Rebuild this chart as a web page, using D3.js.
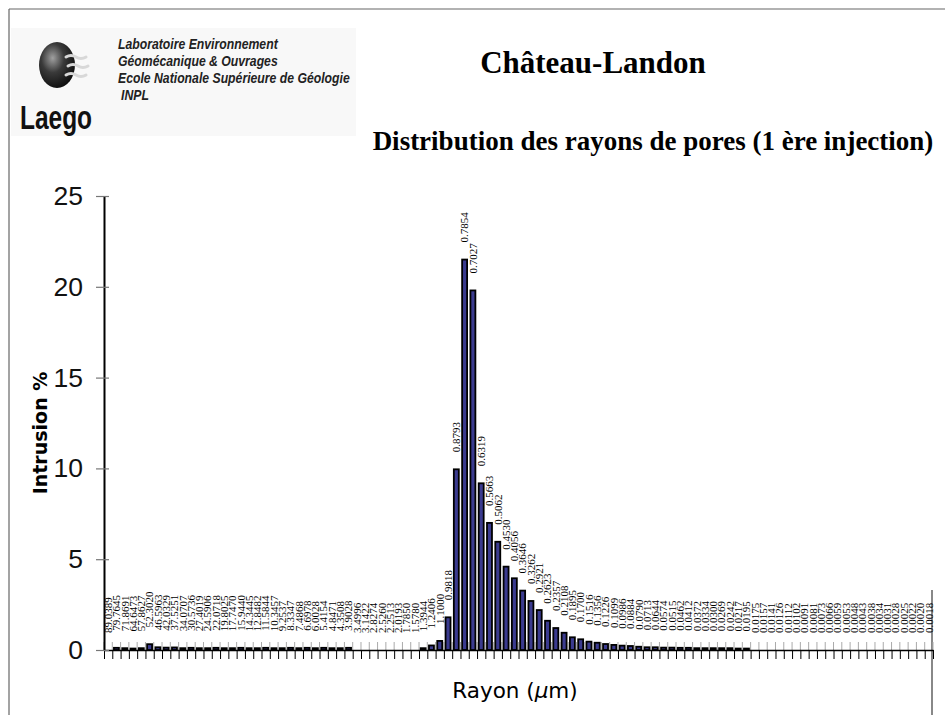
<!DOCTYPE html>
<html>
<head>
<meta charset="utf-8">
<script src="https://cdn.jsdelivr.net/npm/d3@7"></script>
<style>
  html, body { margin: 0; padding: 0; background: #fff; }
  svg { display: block; }
</style>
</head>
<body>
<svg id="chart" width="945" height="715"></svg>
<script>
// Pore radius classes (µm), one per bar, from coarse to fine
const radius = [
  "89.0389","79.7645","71.8691","64.6473","57.8627","52.3020","46.5963","42.0329","37.5251","34.0707",
  "30.5736","27.4019","24.5906","22.0718","19.8025","17.7470","15.9440","14.3445","12.8482","11.5844",
  "10.3457","9.2537","8.3347","7.4868","6.6978","6.0028","5.4154","4.8471","4.3508","3.9028",
  "3.4996","3.1422","2.8274","2.5260","2.2513","2.0193","1.7850","1.5780","1.3944","1.2406",
  "1.1000","0.9818","0.8793","0.7854","0.7027","0.6319","0.5663","0.5062","0.4530","0.4056",
  "0.3646","0.3262","0.2921","0.2623","0.2357","0.2108","0.1895","0.1700","0.1516","0.1356",
  "0.1226","0.1099","0.0986","0.0884","0.0790","0.0713","0.0644","0.0574","0.0515","0.0462",
  "0.0412","0.0372","0.0334","0.0300","0.0269","0.0242","0.0217","0.0195","0.0175","0.0157",
  "0.0141","0.0126","0.0112","0.0102","0.0091","0.0081","0.0073","0.0066","0.0059","0.0053",
  "0.0048","0.0043","0.0038","0.0034","0.0031","0.0028","0.0025","0.0022","0.0020","0.0018"
];

// Incremental intrusion (%) for each radius class
const intrusion = [
  0.00, 0.12, 0.10, 0.08, 0.10, 0.32, 0.15, 0.13, 0.14, 0.10,
  0.12, 0.10, 0.10, 0.12, 0.10, 0.10, 0.12, 0.10, 0.10, 0.12,
  0.10, 0.10, 0.12, 0.10, 0.12, 0.10, 0.12, 0.10, 0.10, 0.12,
  0.00, 0.00, 0.00, 0.00, 0.00, 0.00, 0.00, 0.00, 0.10, 0.25,
  0.50, 1.80, 9.95, 21.50, 19.80, 9.18, 7.00, 5.96, 4.59, 3.95,
  3.27, 2.70, 2.20, 1.61, 1.21, 0.95, 0.70, 0.59, 0.46, 0.40,
  0.33, 0.28, 0.24, 0.22, 0.18, 0.15, 0.15, 0.13, 0.13, 0.12,
  0.12, 0.10, 0.10, 0.10, 0.10, 0.10, 0.08, 0.08, 0.00, 0.00,
  0.00, 0.00, 0.00, 0.00, 0.00, 0.00, 0.00, 0.00, 0.00, 0.00,
  0.00, 0.00, 0.00, 0.00, 0.00, 0.00, 0.00, 0.00, 0.00, 0.00
];

const yTicks = [0, 5, 10, 15, 20, 25];

const svg = d3.select("#chart");

// Page frame
svg.append("line").attr("x1", 9).attr("x2", 945).attr("y1", 9).attr("y2", 9)
  .attr("stroke", "#666").attr("stroke-width", 1.2);
svg.append("line").attr("x1", 9).attr("x2", 9).attr("y1", 9).attr("y2", 715)
  .attr("stroke", "#666").attr("stroke-width", 1.2);
svg.append("line").attr("x1", 932).attr("x2", 932).attr("y1", 590).attr("y2", 715)
  .attr("stroke", "#888").attr("stroke-width", 2);

// ---- Laego logo block ----
const logo = svg.append("g");
logo.append("rect").attr("x", 11).attr("y", 28).attr("width", 345).attr("height", 108)
  .attr("fill", "#f8f8f8");
const defs = svg.append("defs");
const grad = defs.append("radialGradient").attr("id", "sphere")
  .attr("cx", "38%").attr("cy", "35%").attr("r", "70%");
grad.append("stop").attr("offset", "0%").attr("stop-color", "#a0a0a0");
grad.append("stop").attr("offset", "45%").attr("stop-color", "#3a3a3a");
grad.append("stop").attr("offset", "100%").attr("stop-color", "#0c0c0c");
logo.append("ellipse").attr("cx", 57).attr("cy", 65).attr("rx", 18).attr("ry", 23)
  .attr("fill", "url(#sphere)");
[57, 66, 75].forEach((yy, i) => {
  logo.append("path")
    .attr("d", `M ${66 + (i === 1 ? 2 : 0)} ${yy} q 5 -3 10 0 q 5 3 10 0`)
    .attr("fill", "none").attr("stroke", "#d8d8d8").attr("stroke-width", 3)
    .attr("stroke-linecap", "round");
});
logo.append("text")
  .attr("transform", "translate(20,129) scale(0.72,1)")
  .attr("font-family", "'Liberation Sans', Arial, sans-serif")
  .attr("font-weight", "bold").attr("font-size", 34).attr("fill", "#111")
  .text("Laego");
const logoLines = [
  ["Laboratoire Environnement", 49],
  ["Géomécanique & Ouvrages", 66],
  ["Ecole Nationale Supérieure de Géologie", 83],
  ["INPL", 100]
];
logo.selectAll("text.lab").data(logoLines).join("text")
  .attr("class", "lab")
  .attr("transform", (d, i) => `translate(${i === 3 ? 121 : 118},${d[1]}) scale(0.8,1)`)
  .attr("font-family", "'Liberation Sans', Arial, sans-serif")
  .attr("font-weight", "bold").attr("font-style", "italic").attr("font-size", 15.3)
  .attr("fill", "#222").text(d => d[0]);

// ---- Titles ----
svg.append("text").attr("x", 593).attr("y", 73).attr("text-anchor", "middle")
  .attr("font-family", "'Liberation Serif', 'Times New Roman', serif")
  .attr("font-weight", "bold").attr("font-size", 31).attr("fill", "#000")
  .text("Château-Landon");
svg.append("text").attr("x", 653).attr("y", 150).attr("text-anchor", "middle")
  .attr("font-family", "'Liberation Serif', 'Times New Roman', serif")
  .attr("font-weight", "bold").attr("font-size", 27).attr("fill", "#000")
  .text("Distribution des rayons de pores (1 ère injection)");

// ---- Chart ----
const plotLeft = 104, plotRight = 933, plotTop = 196, plotBottom = 650;

const x = d3.scaleBand().domain(radius).range([plotLeft, plotRight]).paddingInner(0.4).paddingOuter(0.2);
const xEdge = d3.scaleLinear().domain([0, radius.length]).range([plotLeft, plotRight]);
const y = d3.scaleLinear().domain([0, 25]).range([plotBottom, plotTop]);

// X ticks between classes (grey above the axis, black below)
const edges = d3.range(radius.length + 1);
svg.append("g").selectAll("line").data(edges).join("line")
  .attr("x1", d => xEdge(d)).attr("x2", d => xEdge(d))
  .attr("y1", plotBottom - 8).attr("y2", plotBottom)
  .attr("stroke", "#aaa").attr("stroke-width", 1);
svg.append("g").attr("transform", `translate(0,${plotBottom})`)
  .call(d3.axisBottom(xEdge).tickValues(edges).tickFormat("").tickSizeInner(9).tickSizeOuter(0))
  .call(g => g.select(".domain").attr("stroke", "#000").attr("stroke-width", 1.5))
  .call(g => g.selectAll(".tick line").attr("stroke", "#000").attr("stroke-width", 1));

// Bars
svg.append("g").selectAll("rect").data(intrusion).join("rect")
  .attr("x", (d, i) => x(radius[i]))
  .attr("y", d => y(d))
  .attr("width", x.bandwidth())
  .attr("height", d => plotBottom - y(d))
  .attr("fill", "#3b3b8f").attr("stroke", "#000").attr("stroke-width", 1.8);

// Radius labels above each bar
svg.append("g").selectAll("text").data(intrusion).join("text")
  .attr("transform", (d, i) =>
    `translate(${x(radius[i]) + x.bandwidth() / 2 + 3.8},${y(d) - 17}) rotate(-90)`)
  .attr("font-family", "'Liberation Serif', 'Times New Roman', serif")
  .attr("font-size", 11).attr("fill", "#000")
  .text((d, i) => radius[i]);

// Y axis
svg.append("g").attr("transform", `translate(${plotLeft},0)`)
  .call(d3.axisLeft(y).tickValues(yTicks).tickSizeInner(8).tickSizeOuter(0).tickPadding(13))
  .call(g => g.select(".domain").attr("stroke", "#000").attr("stroke-width", 2))
  .call(g => g.selectAll(".tick line").attr("x2", 5).attr("x1", -8).attr("stroke", "#777").attr("stroke-width", 1.2))
  .call(g => g.selectAll(".tick text")
    .attr("font-family", "'Liberation Sans', Arial, sans-serif")
    .attr("font-size", 26.5).attr("fill", "#111"));

// Axis titles
svg.append("text").attr("transform", "translate(47,433) rotate(-90)")
  .attr("text-anchor", "middle")
  .attr("font-family", "'DejaVu Sans', Verdana, sans-serif")
  .attr("font-size", 19).attr("font-weight", "bold").attr("fill", "#000")
  .text("Intrusion %");
const xt = svg.append("text").attr("x", 515).attr("y", 698).attr("text-anchor", "middle")
  .attr("font-family", "'DejaVu Sans', Verdana, sans-serif")
  .attr("font-size", 21.5).attr("fill", "#000");
xt.append("tspan").text("Rayon (");
xt.append("tspan").attr("font-style", "italic").text("μ");
xt.append("tspan").text("m)");
</script>
</body>
</html>
